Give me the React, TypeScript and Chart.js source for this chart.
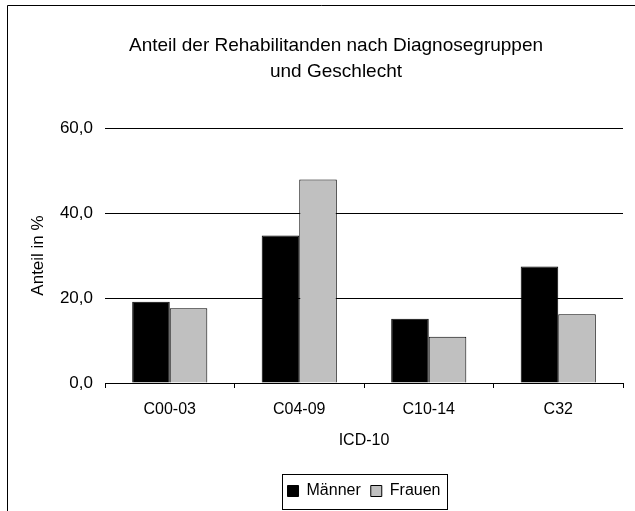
import React, { useEffect, useRef } from "react";
import { Chart, registerables } from "chart.js";

Chart.register(...registerables);

const categories = ["C00-03", "C04-09", "C10-14", "C32"];
const maenner = [19.1, 34.7, 15.1, 27.4];
const frauen = [17.6, 47.9, 10.9, 16.2];
const titleLines = ["Anteil der Rehabilitanden nach Diagnosegruppen", "und Geschlecht"];
const yAxisTitle = "Anteil in %";
const xAxisTitle = "ICD-10";
const seriesNames = ["Männer", "Frauen"];

const FONT = "'Liberation Sans', Arial, sans-serif";

const framePlugin = {
  id: "frame",
  beforeDraw(chart: any) {
    const { ctx, width, height } = chart;
    ctx.save();
    ctx.fillStyle = "#ffffff";
    ctx.fillRect(0, 0, width, height);
    ctx.strokeStyle = "#000000";
    ctx.lineWidth = 1;
    ctx.beginPath();
    ctx.moveTo(7.5, height + 5);
    ctx.lineTo(7.5, 5.5);
    ctx.lineTo(width + 5, 5.5);
    ctx.stroke();
    ctx.restore();
  },
  afterDraw(chart: any) {
    const { ctx } = chart;
    ctx.save();
    ctx.fillStyle = "#000000";
    ctx.font = `19px ${FONT}`;
    ctx.textAlign = "center";
    ctx.textBaseline = "alphabetic";
    ctx.fillText(titleLines[0], 336, 51);
    ctx.fillText(titleLines[1], 336, 77);
    const boxes = chart.legend && chart.legend.legendHitBoxes;
    if (boxes && boxes.length) {
      let l = Infinity, r = -Infinity, t = Infinity, b = -Infinity;
      boxes.forEach((h: any) => {
        l = Math.min(l, h.left);
        r = Math.max(r, h.left + h.width);
        t = Math.min(t, h.top);
        b = Math.max(b, h.top + h.height);
      });
      const cy = (t + b) / 2;
      ctx.strokeStyle = "#000000";
      ctx.lineWidth = 1;
      ctx.strokeRect(Math.round(l - 6) + 0.5, Math.round(cy - 17) + 0.5, Math.round(r - l + 12), 35);
    }
    ctx.restore();
  },
};

export default function App() {
  const ref = useRef<HTMLCanvasElement>(null);
  useEffect(() => {
    if (!ref.current) return;
    const chart = new Chart(ref.current, {
      type: "bar",
      data: {
        labels: categories,
        datasets: [
          {
            label: seriesNames[0],
            data: maenner,
            backgroundColor: "#000000",
            borderColor: "#000000",
            borderWidth: 1,
            categoryPercentage: 0.58,
            barPercentage: 1,
          },
          {
            label: seriesNames[1],
            data: frauen,
            backgroundColor: "#C0C0C0",
            borderColor: "#000000",
            borderWidth: 1,
            categoryPercentage: 0.58,
            barPercentage: 1,
          },
        ],
      },
      options: {
        animation: false,
        responsive: false,
        devicePixelRatio: 1,
        layout: { padding: { left: 28, right: 12, top: 128, bottom: 2 } },
        plugins: {
          title: { display: false },
          tooltip: { enabled: false },
          legend: {
            display: true,
            position: "bottom",
            fullSize: false,
            labels: {
              color: "#000000",
              font: { family: FONT, size: 16 },
              boxWidth: 11,
              boxHeight: 11,
              padding: 10,
            },
          },
        },
        scales: {
          x: {
            afterFit(scale: any) {
              scale.height = 90;
            },
            grid: {
              display: true,
              drawOnChartArea: false,
              drawTicks: true,
              tickLength: 5,
              color: "#000000",
              offset: true,
            },
            border: { display: true, color: "#000000", width: 1 },
            ticks: {
              color: "#000000",
              font: { family: FONT, size: 16 },
              padding: 12,
              maxRotation: 0,
            },
            title: {
              display: true,
              text: xAxisTitle,
              color: "#000000",
              font: { family: FONT, size: 16 },
              padding: { top: 0, bottom: 23 },
            },
          },
          y: {
            min: 0,
            max: 60,
            afterFit(scale: any) {
              scale.width = 77;
            },
            grid: {
              color: "#000000",
              lineWidth: 1,
              drawTicks: false,
            },
            border: { display: false },
            ticks: {
              stepSize: 20,
              color: "#000000",
              font: { family: FONT, size: 17 },
              padding: 12,
              callback: (v: any) => Number(v).toFixed(1).replace(".", ","),
            },
            title: {
              display: true,
              text: yAxisTitle,
              color: "#000000",
              font: { family: FONT, size: 17 },
              padding: { top: 0, bottom: 0 },
            },
          },
        },
      },
      plugins: [framePlugin],
    });
    return () => chart.destroy();
  }, []);
  return (
    <div style={{ position: "fixed", left: 0, top: 0, width: 635, height: 511 }}>
      <canvas ref={ref} width={635} height={511} style={{ width: 635, height: 511, display: "block" }} />
    </div>
  );
}
